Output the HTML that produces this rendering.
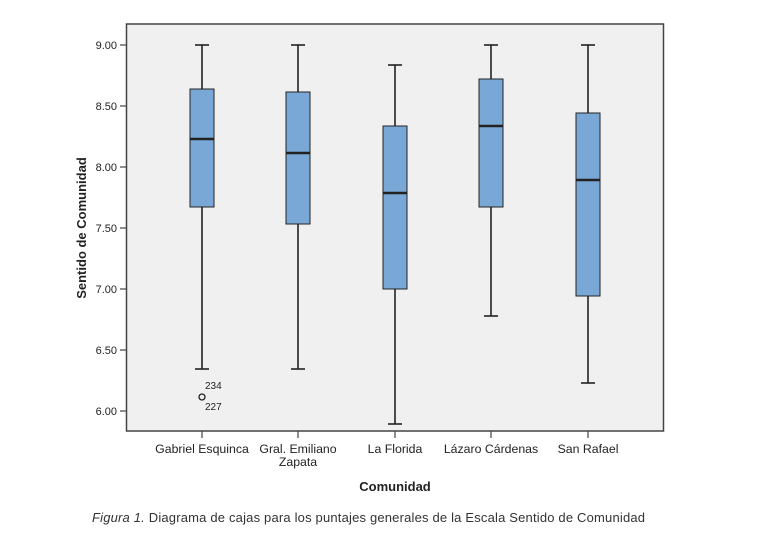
<!DOCTYPE html>
<html><head><meta charset="utf-8"><style>
body{margin:0;background:#fff;}
svg text{font-family:"Liberation Sans",Arial,sans-serif;}
</style></head><body>
<svg width="761" height="548" xmlns="http://www.w3.org/2000/svg">
<rect x="126.5" y="24" width="537" height="407" fill="#f0f0f0" stroke="#444" stroke-width="1.5"/>
<g font-size="11" fill="#222" text-anchor="end">
<text x="117" y="49">9.00</text><text x="117" y="110">8.50</text><text x="117" y="171">8.00</text>
<text x="117" y="232">7.50</text><text x="117" y="293">7.00</text><text x="117" y="354">6.50</text><text x="117" y="415">6.00</text>
</g>
<g stroke="#444" stroke-width="1.2">
<line x1="120" x2="126" y1="45" y2="45"/><line x1="120" x2="126" y1="106" y2="106"/><line x1="120" x2="126" y1="167" y2="167"/>
<line x1="120" x2="126" y1="228" y2="228"/><line x1="120" x2="126" y1="289" y2="289"/><line x1="120" x2="126" y1="350" y2="350"/><line x1="120" x2="126" y1="411" y2="411"/>
<line x1="202" x2="202" y1="431" y2="438"/><line x1="298" x2="298" y1="431" y2="438"/><line x1="395" x2="395" y1="431" y2="438"/><line x1="491" x2="491" y1="431" y2="438"/><line x1="588" x2="588" y1="431" y2="438"/>
</g>
<text transform="translate(86,228) rotate(-90)" text-anchor="middle" font-size="13" font-weight="bold" fill="#222">Sentido de Comunidad</text>
<g stroke="#222" stroke-width="1.6" fill="#7aa8d6">
<line x1="202" x2="202" y1="45" y2="369"/><line x1="195" x2="209" y1="45" y2="45"/><line x1="195" x2="209" y1="369" y2="369"/>
<rect x="190" y="89" width="24" height="118" stroke-width="1"/><line x1="190" x2="214" y1="139" y2="139" stroke-width="2.5"/>
<line x1="298" x2="298" y1="45" y2="369"/><line x1="291" x2="305" y1="45" y2="45"/><line x1="291" x2="305" y1="369" y2="369"/>
<rect x="286" y="92" width="24" height="132" stroke-width="1"/><line x1="286" x2="310" y1="153" y2="153" stroke-width="2.5"/>
<line x1="395" x2="395" y1="65" y2="424"/><line x1="388" x2="402" y1="65" y2="65"/><line x1="388" x2="402" y1="424" y2="424"/>
<rect x="383" y="126" width="24" height="163" stroke-width="1"/><line x1="383" x2="407" y1="193" y2="193" stroke-width="2.5"/>
<line x1="491" x2="491" y1="45" y2="316"/><line x1="484" x2="498" y1="45" y2="45"/><line x1="484" x2="498" y1="316" y2="316"/>
<rect x="479" y="79" width="24" height="128" stroke-width="1"/><line x1="479" x2="503" y1="126" y2="126" stroke-width="2.5"/>
<line x1="588" x2="588" y1="45" y2="383"/><line x1="581" x2="595" y1="45" y2="45"/><line x1="581" x2="595" y1="383" y2="383"/>
<rect x="576" y="113" width="24" height="183" stroke-width="1"/><line x1="576" x2="600" y1="180" y2="180" stroke-width="2.5"/>
</g>
<circle cx="202" cy="397" r="3" fill="none" stroke="#222" stroke-width="1.3"/>
<text x="205" y="389" font-size="10" fill="#222">234</text>
<text x="205" y="410" font-size="10" fill="#222">227</text>
<g font-size="12.3" fill="#222" text-anchor="middle">
<text x="202" y="453">Gabriel Esquinca</text>
<text x="298" y="453">Gral. Emiliano</text><text x="298" y="466">Zapata</text>
<text x="395" y="453">La Florida</text>
<text x="491" y="453">Lázaro Cárdenas</text>
<text x="588" y="453">San Rafael</text>
</g>
<text x="395" y="491" text-anchor="middle" font-size="13" font-weight="bold" fill="#222">Comunidad</text>
<text x="92" y="522" font-size="13" fill="#333" textLength="553" lengthAdjust="spacing"><tspan font-style="italic">Figura 1.</tspan> Diagrama de cajas para los puntajes generales de la Escala Sentido de Comunidad</text>
</svg>
</body></html>
